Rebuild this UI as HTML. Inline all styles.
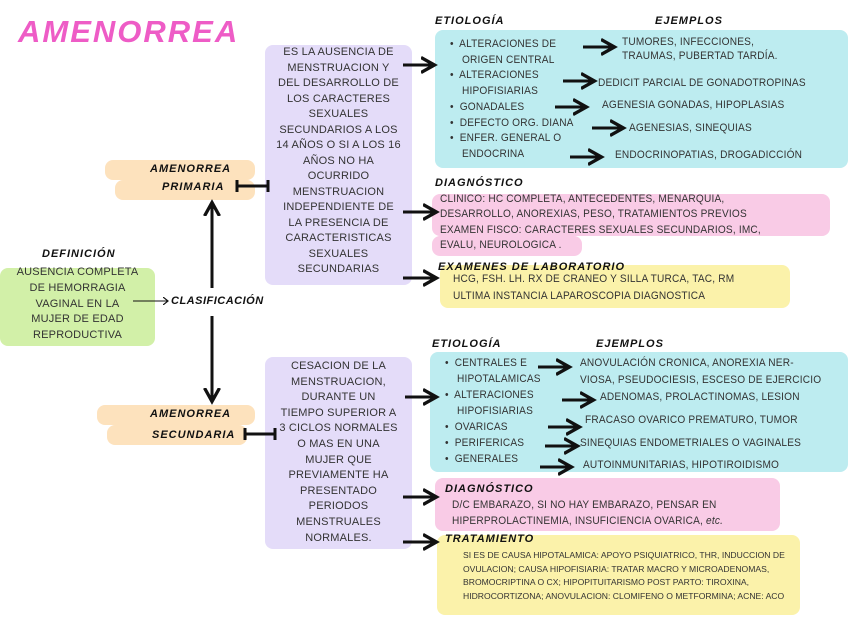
<!DOCTYPE html>
<html><head><meta charset="utf-8"><style>
body{margin:0;width:848px;height:636px;background:#fff;position:relative;overflow:hidden;font-family:"Liberation Sans",sans-serif;color:#333}
.b{position:absolute;border-radius:8px}
.t{position:absolute;font-size:11px;line-height:14px;white-space:nowrap;letter-spacing:0.2px;transform:scaleX(0.92);transform-origin:left center}
.c{position:absolute;font-size:11px;white-space:nowrap;text-align:center;letter-spacing:0.2px}
.h{position:absolute;font-size:11px;font-weight:bold;font-style:italic;white-space:nowrap;color:#111;letter-spacing:1px}
.s{position:absolute;font-size:8.6px;line-height:13.5px;white-space:nowrap}
</style></head><body>
<!-- backgrounds -->
<div class="b" style="left:265px;top:45px;width:147px;height:240px;background:#e4dcf9"></div>
<div class="b" style="left:265px;top:357px;width:147px;height:192px;background:#e4dcf9"></div>
<div class="b" style="left:105px;top:160px;width:150px;height:20px;background:#fde2bd"></div>
<div class="b" style="left:115px;top:180px;width:140px;height:20px;background:#fde2bd"></div>
<div class="b" style="left:97px;top:405px;width:158px;height:20px;background:#fde2bd"></div>
<div class="b" style="left:107px;top:425px;width:140px;height:20px;background:#fde2bd"></div>
<div class="b" style="left:0px;top:268px;width:155px;height:78px;background:#d2f0a8"></div>
<div class="b" style="left:435px;top:30px;width:413px;height:138px;background:#bdecf0"></div>
<div class="b" style="left:432px;top:194px;width:398px;height:42px;background:#f9cbe6"></div>
<div class="b" style="left:432px;top:236px;width:150px;height:20px;background:#f9cbe6"></div>
<div class="b" style="left:440px;top:265px;width:350px;height:43px;background:#fbf2aa"></div>
<div class="b" style="left:430px;top:352px;width:418px;height:120px;background:#bdecf0"></div>
<div class="b" style="left:435px;top:478px;width:345px;height:53px;background:#f9cbe6"></div>
<div class="b" style="left:437px;top:535px;width:363px;height:80px;background:#fbf2aa"></div>

<div style="position:absolute;left:18px;top:14px;font-size:31px;font-weight:bold;font-style:italic;color:#ee5cc6;letter-spacing:2px">AMENORREA</div>

<!-- primary purple text -->
<div class="c" style="left:265px;top:45px;width:147px;line-height:15.5px">ES LA AUSENCIA DE<br>MENSTRUACION Y<br>DEL DESARROLLO DE<br>LOS CARACTERES<br>SEXUALES<br>SECUNDARIOS A LOS<br>14 AÑOS O SI A LOS 16<br>AÑOS NO HA<br>OCURRIDO<br>MENSTRUACION<br>INDEPENDIENTE DE<br>LA PRESENCIA DE<br>CARACTERISTICAS<br>SEXUALES<br>SECUNDARIAS</div>
<div class="c" style="left:265px;top:359px;width:147px;line-height:15.6px">CESACION DE LA<br>MENSTRUACION,<br>DURANTE UN<br>TIEMPO SUPERIOR A<br>3 CICLOS NORMALES<br>O MAS EN UNA<br>MUJER QUE<br>PREVIAMENTE HA<br>PRESENTADO<br>PERIODOS<br>MENSTRUALES<br>NORMALES.</div>

<div class="h" style="left:150px;top:163px">AMENORREA</div>
<div class="h" style="left:162px;top:181px">PRIMARIA</div>
<div class="h" style="left:150px;top:408px">AMENORREA</div>
<div class="h" style="left:152px;top:429px">SECUNDARIA</div>
<div class="h" style="left:42px;top:248px">DEFINICIÓN</div>
<div class="c" style="left:0;top:265px;width:155px;line-height:15.8px">AUSENCIA COMPLETA<br>DE HEMORRAGIA<br>VAGINAL EN LA<br>MUJER DE EDAD<br>REPRODUCTIVA</div>
<div class="h" style="left:171px;top:295px;letter-spacing:0.5px">CLASIFICACIÓN</div>

<!-- top right -->
<div class="h" style="left:435px;top:15px">ETIOLOGÍA</div>
<div class="h" style="left:655px;top:15px">EJEMPLOS</div>
<div class="t" style="left:450px;top:37px;line-height:15.7px">•&nbsp; ALTERACIONES DE<br>&nbsp;&nbsp;&nbsp; ORIGEN CENTRAL<br>•&nbsp; ALTERACIONES<br>&nbsp;&nbsp;&nbsp; HIPOFISIARIAS<br>•&nbsp; GONADALES<br>•&nbsp; DEFECTO ORG. DIANA<br>•&nbsp; ENFER. GENERAL O<br>&nbsp;&nbsp;&nbsp; ENDOCRINA</div>
<div class="t" style="left:622px;top:35px">TUMORES, INFECCIONES,<br>TRAUMAS, PUBERTAD TARDÍA.</div>
<div class="t" style="left:598px;top:76px">DEDICIT PARCIAL DE GONADOTROPINAS</div>
<div class="t" style="left:602px;top:98px">AGENESIA GONADAS, HIPOPLASIAS</div>
<div class="t" style="left:629px;top:121px">AGENESIAS, SINEQUIAS</div>
<div class="t" style="left:615px;top:148px">ENDOCRINOPATIAS, DROGADICCIÓN</div>
<div class="h" style="left:435px;top:177px">DIAGNÓSTICO</div>
<div class="t" style="left:440px;top:192px;line-height:15.4px">CLINICO: HC COMPLETA, ANTECEDENTES, MENARQUIA,<br>DESARROLLO, ANOREXIAS, PESO, TRATAMIENTOS PREVIOS<br>EXAMEN FISCO: CARACTERES SEXUALES SECUNDARIOS, IMC,<br>EVALU, NEUROLOGICA .</div>
<div class="h" style="left:438px;top:261px">EXAMENES DE LABORATORIO</div>
<div class="t" style="left:453px;top:271px;line-height:17px">HCG, FSH. LH. RX DE CRANEO Y SILLA TURCA, TAC, RM<br>ULTIMA INSTANCIA LAPAROSCOPIA DIAGNOSTICA</div>

<!-- bottom right -->
<div class="h" style="left:432px;top:338px">ETIOLOGÍA</div>
<div class="h" style="left:596px;top:338px">EJEMPLOS</div>
<div class="t" style="left:445px;top:355px;line-height:16px">•&nbsp; CENTRALES E<br>&nbsp;&nbsp;&nbsp; HIPOTALAMICAS<br>•&nbsp; ALTERACIONES<br>&nbsp;&nbsp;&nbsp; HIPOFISIARIAS<br>•&nbsp; OVARICAS<br>•&nbsp; PERIFERICAS<br>•&nbsp; GENERALES</div>
<div class="t" style="left:580px;top:355px;line-height:16.5px">ANOVULACIÓN CRONICA, ANOREXIA NER-<br>VIOSA, PSEUDOCIESIS, ESCESO DE EJERCICIO</div>
<div class="t" style="left:600px;top:390px">ADENOMAS, PROLACTINOMAS, LESION</div>
<div class="t" style="left:585px;top:413px">FRACASO OVARICO PREMATURO, TUMOR</div>
<div class="t" style="left:580px;top:436px">SINEQUIAS ENDOMETRIALES O VAGINALES</div>
<div class="t" style="left:583px;top:458px">AUTOINMUNITARIAS, HIPOTIROIDISMO</div>
<div class="h" style="left:445px;top:483px">DIAGNÓSTICO</div>
<div class="t" style="left:452px;top:497px;line-height:16px">D/C EMBARAZO, SI NO HAY EMBARAZO, PENSAR EN<br>HIPERPROLACTINEMIA, INSUFICIENCIA OVARICA, <i>etc.</i></div>
<div class="h" style="left:445px;top:533px">TRATAMIENTO</div>
<div class="s" style="left:463px;top:549px">SI ES DE CAUSA HIPOTALAMICA: APOYO PSIQUIATRICO, THR, INDUCCION DE<br>OVULACION; CAUSA HIPOFISIARIA: TRATAR MACRO Y MICROADENOMAS,<br>BROMOCRIPTINA O CX; HIPOPITUITARISMO POST PARTO: TIROXINA,<br>HIDROCORTIZONA; ANOVULACION: CLOMIFENO O METFORMINA; ACNE: ACO</div>

<svg width="848" height="636" style="position:absolute;left:0;top:0" fill="none" stroke="#111" stroke-width="3">
<defs><marker id="a" markerWidth="6" markerHeight="6" refX="4" refY="3" orient="auto" markerUnits="strokeWidth"><path d="M0,0.5 L4.5,3 L0,5.5" fill="none" stroke="#111" stroke-width="1.1"/></marker>
<marker id="a2" markerWidth="8" markerHeight="8" refX="5" refY="4" orient="auto" markerUnits="userSpaceOnUse"><path d="M0,0 L5,4 L0,8" fill="none" stroke="#111" stroke-width="1.2"/></marker></defs>
<g marker-end="url(#a)">
<path d="M403 65H433"/><path d="M583 47H613"/><path d="M563 81H593"/><path d="M555 107H585"/><path d="M592 128H622"/><path d="M570 157H600"/>
<path d="M403 212H435"/><path d="M403 278H435"/>
<path d="M405 397H435"/><path d="M538 367H568"/><path d="M562 400H592"/><path d="M548 427H578"/><path d="M545 446H576"/><path d="M540 467H570"/>
<path d="M403 497H435"/><path d="M403 542H435"/>
<path d="M212 288V204"/><path d="M212 316V400"/>
</g>
<path d="M133 301H168" stroke-width="1" marker-end="url(#a2)"/>
<path d="M237 186H268M237 180V192M268 180V192"/>
<path d="M245 434H275M245 428V440M275 428V440"/>
</svg>
</body></html>
